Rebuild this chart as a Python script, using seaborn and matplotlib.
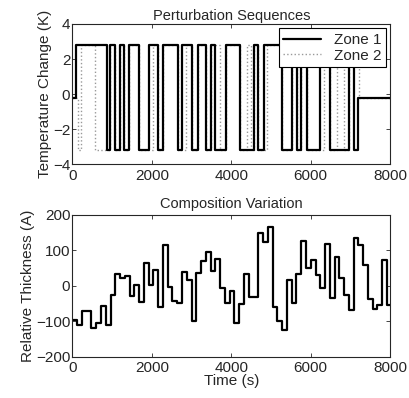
import numpy as np
import pandas as pd
import seaborn as sns
import matplotlib.pyplot as plt

HI, LO, MID = 2.8, -3.2, -0.2

# Zone 1 switching times (s) and levels (K)
zone1_time = [0, 88, 860, 950, 1060, 1200, 1305, 1430, 1675, 1920, 2150, 2270,
              2650, 2760, 3010, 3160, 3365, 3490, 3600, 3870, 4215, 4570, 4680,
              4820, 5285, 5520, 5645, 5750, 5900, 6235, 6490, 6965, 7095, 7200, 8000]
zone1_level = [MID, HI, LO, HI, LO, HI, LO, HI, LO, HI, LO, HI,
               LO, HI, LO, HI, LO, HI, LO, HI, LO, HI, LO,
               HI, LO, HI, LO, HI, LO, HI, LO, HI, LO, MID, MID]

# Zone 2 switching times (s) and levels (K)
zone2_time = [0, 139, 207, 568, 950, 1060, 1200, 1305, 1430, 1675, 2025, 2150,
              2270, 2650, 2867, 3010, 3160, 3365, 3490, 3709, 3870, 4215, 4400,
              4484, 4570, 4680, 4905, 5285, 5520, 5645, 5750, 5900, 6336, 6490,
              6672, 6840, 6965, 7213, 8000]
zone2_level = [MID, LO, HI, LO, HI, LO, HI, LO, HI, LO, HI, LO,
               HI, LO, HI, LO, HI, LO, HI, LO, HI, LO, HI,
               LO, HI, LO, HI, LO, HI, LO, HI, LO, HI, LO,
               HI, LO, HI, MID, MID]

# Relative thickness (A), one value per 120 s interval
thickness = [-98, -112, -70, -70, -119, -105, -57, -112, -27, 32, 21, 27,
             -29, 1, -45, 65, 3, 44, -60, 114, -3, -43, -50, 38,
             17, -99, 36, 71, 95, 43, 76, -6, -50, -14, -105, -52,
             33, -33, -33, 148, 124, 167, -59, -100, -124, 16, -48, 33,
             127, 50, 73, 31, -7, 119, -35, 81, 21, -25, -69, 136,
             116, 60, -38, -65, -55, 74, -55]
sample_step = 120

sns.set_style("ticks")
plt.rcParams['font.family'] = ['Liberation Sans', 'DejaVu Sans']
plt.rcParams['xtick.direction'] = 'in'
plt.rcParams['ytick.direction'] = 'in'
plt.rcParams['xtick.top'] = True
plt.rcParams['ytick.right'] = True

zone1 = pd.DataFrame({"Time": zone1_time, "Change": zone1_level})
zone2 = pd.DataFrame({"Time": zone2_time, "Change": zone2_level})
comp_t = list(np.arange(len(thickness)) * sample_step) + [8000]
comp = pd.DataFrame({"Time": comp_t, "Thickness": thickness + [thickness[-1]]})

fig = plt.figure(figsize=(4.09, 3.98), dpi=100)
ax1 = fig.add_axes([0.177, 0.587, 0.777, 0.353])
ax2 = fig.add_axes([0.177, 0.104, 0.777, 0.356])

sns.lineplot(data=zone2, x="Time", y="Change", ax=ax1, drawstyle="steps-post",
             color="0.6", linestyle=":", linewidth=1.0, label="Zone 2", sort=False)
sns.lineplot(data=zone1, x="Time", y="Change", ax=ax1, drawstyle="steps-post",
             color="black", linewidth=1.6, label="Zone 1", sort=False)
sns.lineplot(data=comp, x="Time", y="Thickness", ax=ax2, drawstyle="steps-post",
             color="black", linewidth=1.6, sort=False)

# legend order: Zone 1 then Zone 2
handles, labels = ax1.get_legend_handles_labels()
leg = ax1.legend(handles[::-1], labels[::-1], loc="upper right", fontsize=11,
                 fancybox=False, framealpha=1, edgecolor="black",
                 borderaxespad=0.3, handlelength=2.5, labelspacing=0.1,
                 borderpad=0.3)
leg.get_frame().set_linewidth(0.8)

ax1.set_xlim(0, 8000)
ax1.set_ylim(-4, 4)
ax1.set_yticks([-4, -2, 0, 2, 4])
ax1.set_xticks([0, 2000, 4000, 6000, 8000])
ax1.set_xlabel("")
ax1.set_ylabel("Temperature Change (K)", fontsize=11, labelpad=1)
ax1.set_title("Perturbation Sequences", fontsize=10.5, pad=3)

ax2.set_xlim(0, 8000)
ax2.set_ylim(-200, 200)
ax2.set_yticks([-200, -100, 0, 100, 200])
ax2.set_xticks([0, 2000, 4000, 6000, 8000])
ax2.set_xlabel("Time (s)", fontsize=11, labelpad=-1)
ax2.set_ylabel("Relative Thickness (A)", fontsize=11, labelpad=1)
ax2.set_title("Composition Variation", fontsize=10.5, pad=5)

for ax in (ax1, ax2):
    ax.tick_params(labelsize=11, length=3, width=0.6)
    ax.tick_params(axis="y", pad=1.5)
    ax.tick_params(axis="x", pad=3.5)
    for s in ax.spines.values():
        s.set_visible(True)
        s.set_linewidth(0.8)

plt.savefig("out.png", dpi=100)
plt.close()
